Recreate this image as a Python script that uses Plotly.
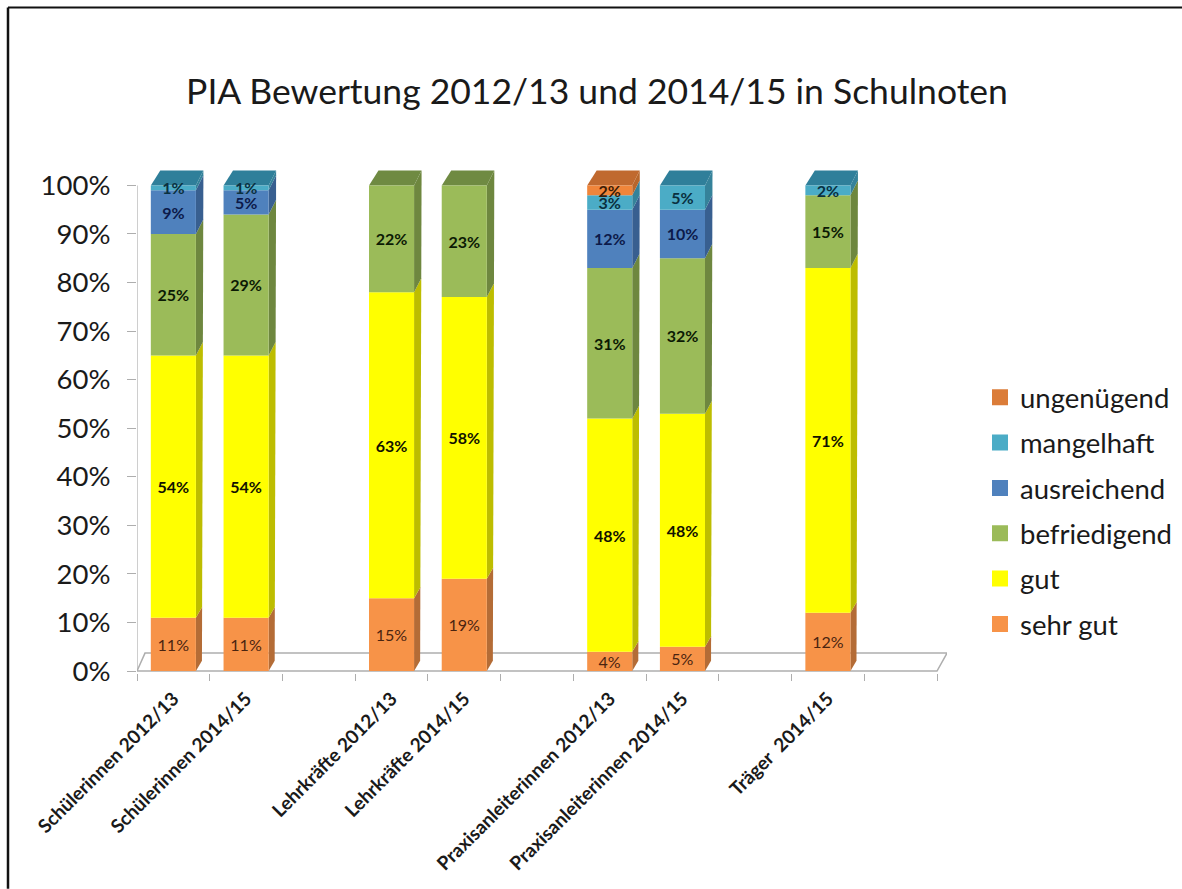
import plotly.graph_objects as go

# --- data -----------------------------------------------------------------
slots = [0, 1, 3, 4, 6, 7, 9]
categories = ["Schülerinnen 2012/13", "Schülerinnen 2014/15", "Lehrkräfte 2012/13", "Lehrkräfte 2014/15",
              "Praxisanleiterinnen 2012/13", "Praxisanleiterinnen 2014/15", "Träger  2014/15"]
sehr_gut = [11, 11, 15, 19, 4, 5, 12]
gut = [54, 54, 63, 58, 48, 48, 71]
befriedigend = [25, 29, 22, 23, 31, 32, 15]
ausreichend = [9, 5, 0, 0, 12, 10, 0]
mangelhaft = [1, 1, 0, 0, 3, 5, 2]
ungenuegend = [0, 0, 0, 0, 2, 0, 0]
y_ticks = [0, 10, 20, 30, 40, 50, 60, 70, 80, 90, 100]

series = [
    ("sehr gut", sehr_gut, "#F79348", "#B46C36", "#B4703F", "#4a2410"),
    ("gut", gut, "#FFFF00", "#BDBD00", "#BDBD00", "#111100"),
    ("befriedigend", befriedigend, "#9BBB59", "#6E873F", "#6F8A42", "#0c1a04"),
    ("ausreichend", ausreichend, "#4F81BD", "#385F90", "#38608F", "#0c1a4a"),
    ("mangelhaft", mangelhaft, "#4BACC6", "#35829A", "#2F7F9A", "#0a3040"),
    ("ungenügend", ungenuegend, "#F0853A", "#B8662B", "#C0692F", "#3a1c08"),
]
legend_colors = {"ungenügend": "#DB7C38"}

# --- geometry -------------------------------------------------------------
W, H = 1182, 889
L, R, T, B = 137, 235, 165.6, 216
XR = [-0.5, 10.6375]
YR = [-0.4, 104]
bar_w = 0.62
FONT = "Lato, Carlito, Calibri, sans-serif"
AXC = "#aeaeae"


def depth_x(v):
    return 0.083 + 0.0002 * v


def depth_y(v):
    return 2.1 + 0.0098 * v


def px(x):
    return (x - L) / (W - L - R)


def py(y):
    return (H - B - y) / (H - T - B)


def poly(pts):
    return "M" + "L".join(f"{a:.4f},{b:.4f}" for a, b in pts) + "Z"


shapes = [dict(type="path", layer="below", xref="x", yref="y", line=dict(color=AXC, width=1.5),
               fillcolor="rgba(0,0,0,0)",
               path=poly([(-0.5, 0), (-0.39, 3.7), (10.5 + 0.1375, 3.7), (10.5, 0)])),
          dict(type="line", layer="below", xref="x", yref="y", x0=-0.5, x1=-0.5, y0=0, y1=100,
               line=dict(color=AXC, width=1.2))]

fig = go.Figure()
for idx, (name, vals, col, side, top, tcol) in enumerate(series):
    bases = []
    for i in range(len(slots)):
        b = 0
        for s in series:
            if s[0] == name:
                break
            b += s[1][i]
        bases.append(b)
    txt = [f"{v}%" if v else "" for v in vals]
    if name != "sehr gut":
        txt = [f"<b>{t}</b>" if t else "" for t in txt]
    fig.add_bar(x=slots, y=vals, base=bases, width=bar_w, name=name, marker=dict(color=col, line=dict(width=0)),
                text=txt, textposition="inside", insidetextanchor="middle", textangle=0, constraintext="none",
                textfont=dict(family=FONT, size=16, color=tcol), showlegend=False, cliponaxis=False, hoverinfo="skip")
    for i, xc in enumerate(slots):
        v = vals[i]
        if not v:
            continue
        b = bases[i]
        x1 = xc + bar_w / 2
        x0 = xc - bar_w / 2
        e = b + v
        shapes.append(dict(type="path", layer="below", xref="x", yref="y", line=dict(width=0), fillcolor=side,
                           path=poly([(x1, b), (x1 + depth_x(b), b + depth_y(b)),
                                      (x1 + depth_x(e), e + depth_y(e)), (x1, e)])))
        if e >= 100:
            shapes.append(dict(type="path", layer="below", xref="x", yref="y", line=dict(width=0), fillcolor=top,
                               path=poly([(x0, e), (x0 + 0.13, e + depth_y(e)),
                                          (x1 + depth_x(e), e + depth_y(e)), (x1, e)])))
    fig.add_scatter(x=[None], y=[None], mode="markers", name=name, legendgroup=name, hoverinfo="skip",
                    legendrank=1000 - idx,
                    marker=dict(symbol="square", size=16, color=legend_colors.get(name, col), line=dict(width=0)))

# outer frame, cut off at the right and bottom of the picture
shapes.append(dict(type="line", xref="paper", yref="paper", x0=px(8), x1=px(W), y0=py(7), y1=py(7),
                   line=dict(color="#111111", width=2)))
shapes.append(dict(type="line", xref="paper", yref="paper", x0=px(8), x1=px(8), y0=py(7), y1=py(H),
                   line=dict(color="#111111", width=2.5)))

fig.update_layout(
    width=W, height=H, autosize=False, margin=dict(l=L, r=R, t=T, b=B, autoexpand=False),
    paper_bgcolor="white", plot_bgcolor="white", barmode="overlay", shapes=shapes,
    title=dict(text="PIA Bewertung 2012/13 und 2014/15 in Schulnoten", x=px(597), xanchor="center", xref="paper",
               y=1 - 92 / H, yanchor="middle", yref="container", font=dict(family=FONT, size=35.5, color="#1a1a1a")),
    legend=dict(x=px(980), y=py(372.6), xanchor="left", yanchor="top", traceorder="grouped",
                tracegroupgap=6.6, font=dict(family=FONT, size=27.5, color="#1a1a1a"), itemsizing="trace",
                bgcolor="rgba(0,0,0,0)", borderwidth=0, itemclick=False, itemdoubleclick=False),
    xaxis=dict(range=XR, tickmode="array", tickvals=slots, ticktext=[f"<b>{c}</b>" for c in categories], tickangle=-45,
               ticks="", showgrid=False, zeroline=False, showline=False, ticklabelstandoff=10,
               tickfont=dict(family=FONT, size=19, color="#1a1a1a"),
               minor=dict(tickmode="array", tickvals=[i - 0.5 for i in range(12)], ticks="outside", ticklen=7,
                          tickcolor=AXC, tickwidth=1.2, showgrid=False)),
    yaxis=dict(range=YR, tickmode="array", tickvals=y_ticks, ticktext=[f"{t}%" for t in y_ticks], ticks="outside",
               ticklen=9, tickcolor=AXC, tickwidth=1.2, showgrid=False, zeroline=False, showline=False,
               ticklabelstandoff=11, tickfont=dict(family=FONT, size=27.5, color="#1a1a1a")),
)
fig.write_html("out.html", post_script="document.body.style.margin='0';", config={"displayModeBar": False})
